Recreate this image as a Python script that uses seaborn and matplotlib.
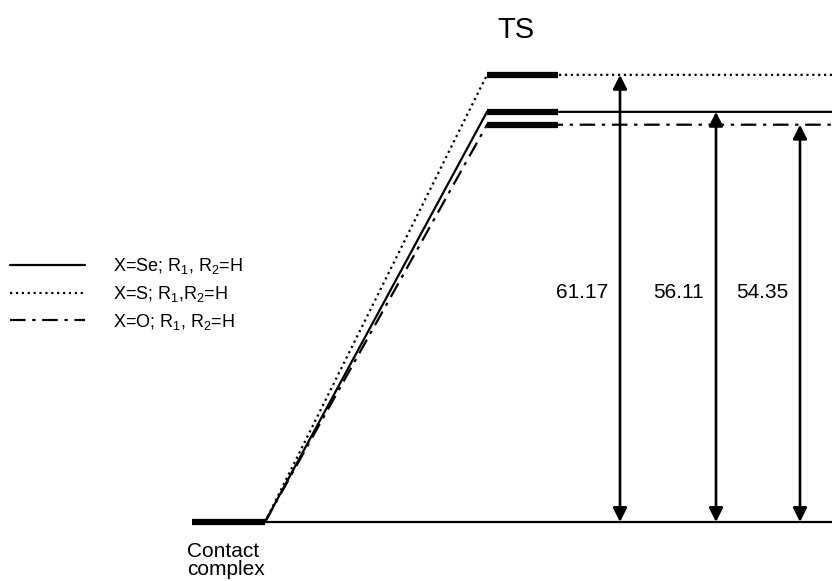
import matplotlib
matplotlib.use("Agg")
import matplotlib.pyplot as plt
import seaborn as sns
import pandas as pd

# energies (kcal/mol) relative to the contact complex
species = ["X=Se; R$_1$, R$_2$=H", "X=S; R$_1$,R$_2$=H", "X=O; R$_1$, R$_2$=H"]
barriers = [56.11, 61.17, 54.35]
styles = ["-", ":", (0, (7, 3, 1.5, 3))]
# arrows: which species each arrow measures, in left-to-right order
arrow_order = ["X=S; R$_1$,R$_2$=H", "X=Se; R$_1$, R$_2$=H", "X=O; R$_1$, R$_2$=H"]
arrow_labels = ["61.17", "56.11", "54.35"]
stage_labels = ["Contact\ncomplex", "TS"]

sns.set_style("white")
plt.rcParams["font.family"] = ["Liberation Sans", "DejaVu Sans"]
plt.rcParams["mathtext.default"] = "regular"
plt.rcParams["text.color"] = "black"

fig = plt.figure(figsize=(8.32, 5.81), dpi=100)
ax = fig.add_axes([0, 0, 1, 1])
scale = 7.31  # px per kcal/mol
ax.set_xlim(0, 832)
ax.set_ylim(-59 / scale, 522 / scale)
ax.axis("off")

x_cc = [192, 265]
x_ts = [487, 558]
x_end = 840

# contact complex level and baseline
ax.plot(x_cc, [0, 0], color="black", lw=4.5, solid_capstyle="butt")
ax.plot([x_cc[1], x_end], [0, 0], color="black", lw=1.6)

for name, e, ls in zip(species, barriers, styles):
    df = pd.DataFrame({"x": [x_cc[1], x_ts[0], x_ts[1], x_end],
                       "y": [0, e, e, e]})
    sns.lineplot(data=df, x="x", y="y", sort=False, ax=ax, color="black",
                 lw=1.6, linestyle=ls, label=name, estimator=None)
    ax.plot(x_ts, [e, e], color="black", lw=4.5, solid_capstyle="butt")

for xa, name, lab in zip([620, 716, 800], arrow_order, arrow_labels):
    e = barriers[species.index(name)]
    ax.annotate("", xy=(xa, e), xytext=(xa, 0),
                arrowprops=dict(arrowstyle="<|-|>", color="black", lw=1.9,
                                mutation_scale=21, shrinkA=0, shrinkB=0))
    ax.text(xa - 12, (522 - 293) / scale, lab, ha="right", va="center",
            fontsize=15, color="black")

ax.text(187, (522 - 542) / scale, stage_labels[0], ha="left", va="top",
        fontsize=15, linespacing=0.95, color="black")
ax.text(516, (522 - 30) / scale, stage_labels[1], ha="center", va="center",
        fontsize=21, color="black")

leg = ax.legend(loc="center left", bbox_to_anchor=(-0.007, 0.494), frameon=False,
                fontsize=13, handlelength=4.15, handletextpad=1.55,
                labelspacing=0.42)
for t in leg.get_texts():
    t.set_color("black")

fig.savefig("out.png", dpi=100)
